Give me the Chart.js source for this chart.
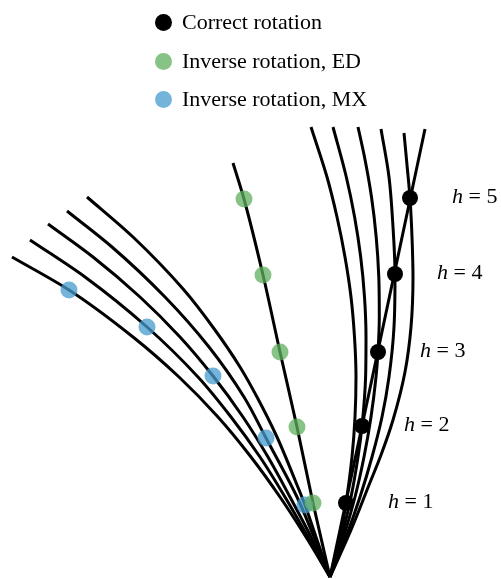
<!DOCTYPE html>
<html>
<head>
<meta charset="utf-8">
<script src="https://cdn.jsdelivr.net/npm/chart.js@4/dist/chart.umd.min.js"></script>
<style>
    html, body { margin: 0; padding: 0; background: #fff; }
    #wrap { position: relative; width: 501px; height: 579px; overflow: hidden; }
    #chart { position: absolute; left: 0; top: 0; }
    .legend-row {
        position: absolute; left: 155px; height: 22px;
        display: flex; align-items: center;
        font: 22px "Liberation Serif", "Times New Roman", serif; line-height: 22px;
        white-space: nowrap; color: #000;
    }
    .legend-row span.dot { width: 17px; height: 17px; border-radius: 50%; margin-right: 10px; flex: none; }
    .h-label {
        position: absolute; height: 22px; display: flex; align-items: center;
        font: 22px "Liberation Serif", "Times New Roman", serif; line-height: 22px;
        white-space: nowrap; color: #000;
    }
</style>
</head>
<body>
<div id="wrap">
    <canvas id="chart" width="501" height="579"></canvas>
</div>
<script>
// x = sideways offset from the apex, y = height above the apex (picture units)
const hLevels = [1, 2, 3, 4, 5];
const legendLabels = ['Correct rotation', 'Inverse rotation, ED', 'Inverse rotation, MX'];

const correctX = [16, 32, 48, 65, 80];
const correctY = [74, 151, 225, 303, 379];
const inverseEdX = [-17, -33, -50, -67, -86];
const inverseEdY = [74, 150, 225, 302, 378];
const inverseMxX = [-25, -64, -117, -183, -261];
const inverseMxY = [72, 139, 201, 250, 287];

// right fan, h = 1 .. 5
const right1 = [[0, 0], [10, 40], [16, 74], [22, 120], [25, 160], [26, 200], [24.5, 240], [21, 280], [15, 320], [7, 360], [-3, 400], [-19, 450]];
const right2 = [[0, 0], [11.5, 40], [21, 80], [28, 120], [32, 151], [35.6, 200], [36, 240], [34.5, 280], [30.7, 320], [24.6, 360], [16.3, 400], [3, 450]];
const right3 = [[0, 0], [13.5, 40], [25, 80], [34, 120], [41, 160], [46, 200], [48, 225], [49.3, 260], [48.8, 300], [46.2, 340], [41.5, 380], [34.5, 420], [28, 450]];
const right4 = [[0, 0], [16, 40], [30, 80], [42, 120], [52, 160], [59, 200], [64, 250], [65, 303], [63, 350], [59, 400], [51, 448]];
const right5 = [[0, 0], [21, 47], [39, 92], [51, 122], [63, 157], [75, 205], [81, 250], [83, 300], [82, 340], [80, 379], [77, 412], [74, 444]];
const correctLine = [[0, 0], [95, 448]];

// middle line (ED)
const middleLine = [[0, 0], [-17, 74], [-33, 150], [-50, 225], [-67, 302], [-86, 378], [-97, 414]];

// left fan, h = 1 .. 5
const left1 = [[0, 0], [-14, 40], [-25, 72], [-35, 97], [-53, 140], [-73, 180], [-90, 210], [-115, 247], [-146, 287], [-197, 340], [-243, 380]];
const left2 = [[0, 0], [-16, 40], [-33, 80], [-64, 139], [-86, 180], [-121, 230], [-165, 280], [-218, 330], [-263, 366]];
const left3 = [[0, 0], [-19, 40], [-40, 80], [-62, 120], [-87, 160], [-117, 201], [-150, 240], [-190, 280], [-237, 320], [-282, 353]];
const left4 = [[0, 0], [-22, 40], [-45, 80], [-70, 120], [-99, 160], [-132, 200], [-183, 250], [-245, 300], [-300, 337]];
const left5 = [[0, 0], [-24, 40], [-50, 80], [-79, 120], [-112, 160], [-151, 200], [-197, 240], [-261, 287], [-318, 320]];

const colors = ['#000000', 'rgba(95, 175, 95, 0.75)', 'rgba(70, 155, 205, 0.75)'];

const toPoints = (xs, ys) => xs.map((x, i) => ({ x: x, y: ys[i] }));
const toLine = arr => ({
    data: arr.map(p => ({ x: p[0], y: p[1] })),
    showLine: true,
    borderColor: '#000',
    borderWidth: 3,
    pointRadius: 0,
    cubicInterpolationMode: 'monotone',
    order: 2
});
const toDots = (pts, color, r) => ({
    data: pts,
    showLine: false,
    backgroundColor: color,
    borderWidth: 0,
    pointRadius: r,
    pointHoverRadius: r,
    order: 0
});

const lines = [right1, right2, right3, right4, right5, correctLine, middleLine,
               left1, left2, left3, left4, left5];

const chart = new Chart(document.getElementById('chart'), {
    type: 'scatter',
    data: {
        datasets: [
            toDots(toPoints(correctX, correctY), colors[0], 8),
            toDots(toPoints(inverseEdX, inverseEdY), colors[1], 8.5),
            toDots(toPoints(inverseMxX, inverseMxY), colors[2], 8.5),
            ...lines.map(toLine)
        ]
    },
    options: {
        indexAxis: 'y',
        responsive: false,
        animation: false,
        layout: { padding: 0, autoPadding: false },
        plugins: { legend: { display: false }, tooltip: { enabled: false } },
        scales: {
            x: { type: 'linear', min: -330, max: 171, display: false },
            y: { type: 'linear', min: -2, max: 577, display: false }
        }
    }
});

const wrap = document.getElementById('wrap');
const legendCenters = [22, 61, 99];
legendLabels.forEach((label, i) => {
    const row = document.createElement('div');
    row.className = 'legend-row';
    row.style.top = (legendCenters[i] - 11) + 'px';
    row.innerHTML = '<span class="dot" style="background:' + colors[i] + '"></span>' + label;
    wrap.appendChild(row);
});

hLevels.forEach((h, i) => {
    const el = document.createElement('div');
    el.className = 'h-label';
    el.innerHTML = '<i>h</i>&nbsp;=&nbsp;' + h;
    el.style.left = (chart.scales.x.getPixelForValue(correctX[i]) + 42) + 'px';
    el.style.top = (chart.scales.y.getPixelForValue(correctY[i]) - 13) + 'px';
    wrap.appendChild(el);
});
</script>
</body>
</html>
